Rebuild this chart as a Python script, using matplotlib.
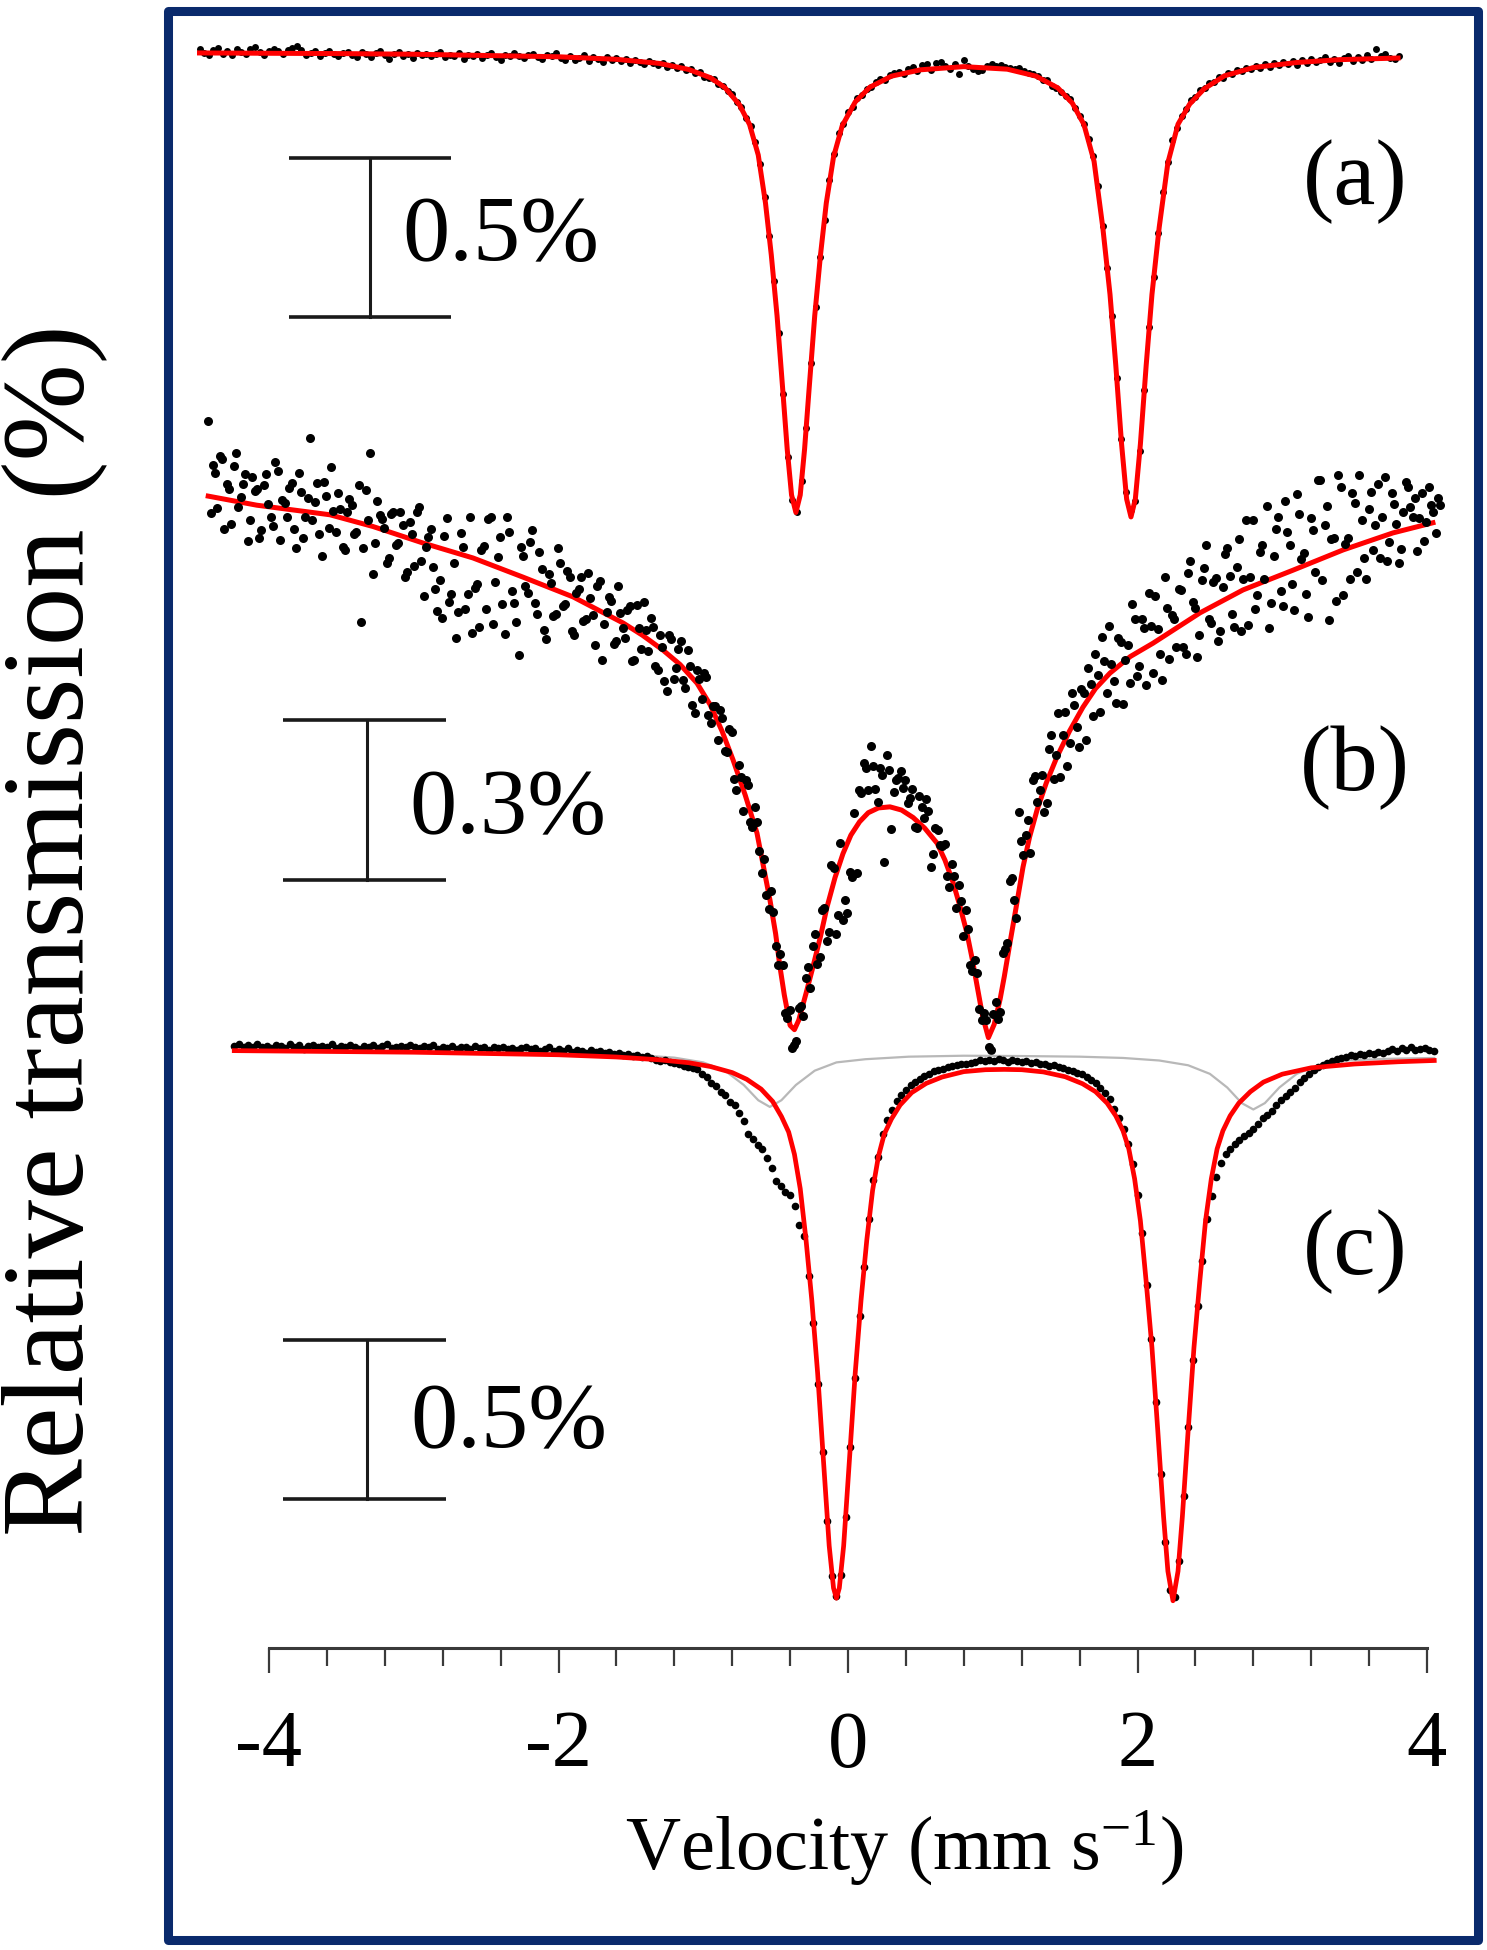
import matplotlib.pyplot as plt
import numpy as np
from matplotlib.patches import Rectangle
from matplotlib.ticker import FixedLocator

# ---------------- data (relative transmission in %) ----------------
# spectrum (a): channel grid start / step in mm/s, then transmission values
a_v0, a_step = -4.48, 0.032
a_trans = [
    100.010, 99.998, 99.990, 100.006, 100.012, 99.995, 100.003, 99.992, 100.009, 100.001,
    99.994, 100.008, 100.015, 99.999, 99.989, 100.004, 100.011, 100.002, 99.993, 100.007,
    100.013, 100.019, 100.006, 99.991, 99.998, 100.004, 99.987, 99.996, 100.003, 99.993,
    99.988, 99.997, 100.001, 99.991, 99.985, 99.999, 99.994, 99.983, 99.996, 100.004,
    99.990, 99.978, 99.995, 100.000, 99.987, 99.993, 99.981, 99.998, 99.989, 99.994,
    99.986, 99.995, 99.999, 99.983, 99.990, 99.988, 99.996, 99.978, 99.992, 99.987,
    99.994, 99.982, 99.990, 99.997, 99.985, 99.976, 99.991, 99.986, 99.998, 99.988,
    99.980, 99.992, 99.995, 99.983, 99.978, 99.990, 99.987, 99.996, 99.982, 99.976,
    99.986, 99.974, 99.981, 99.989, 99.972, 99.983, 99.978, 99.969, 99.985, 99.975,
    99.980, 99.971, 99.977, 99.966, 99.974, 99.969, 99.961, 99.972, 99.965, 99.958,
    99.966, 99.954, 99.960, 99.949, 99.955, 99.942, 99.946, 99.933, 99.936, 99.922,
    99.917, 99.915, 99.899, 99.894, 99.876, 99.868, 99.843, 99.826, 99.793, 99.766,
    99.716, 99.648, 99.544, 99.420, 99.279, 99.117, 98.924, 98.725, 98.591, 98.553,
    98.651, 98.819, 99.022, 99.199, 99.356, 99.471, 99.599, 99.679, 99.744, 99.774,
    99.811, 99.828, 99.855, 99.864, 99.885, 99.889, 99.906, 99.914, 99.913, 99.927,
    99.933, 99.938, 99.931, 99.947, 99.952, 99.940, 99.958, 99.963, 99.944, 99.966,
    99.970, 99.957, 99.946, 99.961, 99.930, 99.975, 99.955, 99.948, 99.939, 99.944,
    99.957, 99.962, 99.955, 99.958, 99.952, 99.950, 99.945, 99.949, 99.939, 99.933,
    99.930, 99.924, 99.911, 99.912, 99.893, 99.886, 99.874, 99.861, 99.851, 99.825,
    99.798, 99.774, 99.727, 99.673, 99.578, 99.452, 99.320, 99.169, 98.975, 98.782,
    98.616, 98.560, 98.587, 98.746, 98.937, 99.135, 99.293, 99.431, 99.560, 99.655,
    99.724, 99.760, 99.799, 99.820, 99.849, 99.858, 99.881, 99.886, 99.904, 99.905,
    99.921, 99.919, 99.934, 99.930, 99.944, 99.939, 99.951, 99.945, 99.957, 99.950,
    99.961, 99.953, 99.964, 99.958, 99.967, 99.962, 99.971, 99.960, 99.975, 99.966,
    99.978, 99.968, 99.974, 99.983, 99.970, 99.977, 99.965, 99.980, 99.986, 99.972,
    99.984, 99.976, 99.991, 99.979, 100.010, 99.988, 99.995, 99.982, 99.977, 99.986,
]
a_fit_v = [-4.48, -4.0, -3.5, -3.0, -2.5, -2.0, -1.6, -1.3, -1.1, -0.95,
           -0.85, -0.75, -0.68, -0.62, -0.57, -0.53, -0.49, -0.45, -0.42, -0.39,
           -0.36, -0.33, -0.30, -0.27, -0.23, -0.19, -0.15, -0.10, -0.04, 0.05,
           0.15, 0.3, 0.5, 0.8, 1.1, 1.3, 1.45, 1.55, 1.63, 1.70,
           1.76, 1.81, 1.85, 1.89, 1.925, 1.955, 1.985, 2.02, 2.06, 2.10,
           2.15, 2.21, 2.28, 2.36, 2.46, 2.6, 2.8, 3.1, 3.4, 3.8]
a_fit_T = [99.997, 99.996, 99.995, 99.993, 99.989, 99.985, 99.977, 99.964, 99.945, 99.919,
           99.888, 99.834, 99.772, 99.676, 99.525, 99.362, 99.170, 98.933, 98.751, 98.607,
           98.552, 98.607, 98.751, 98.933, 99.170, 99.362, 99.525, 99.670, 99.768, 99.843,
           99.889, 99.924, 99.944, 99.954, 99.946, 99.924, 99.887, 99.839, 99.772, 99.656,
           99.449, 99.238, 99.015, 98.767, 98.594, 98.538, 98.594, 98.767, 99.015, 99.238,
           99.449, 99.652, 99.773, 99.836, 99.884, 99.925, 99.951, 99.967, 99.976, 99.981]

# spectrum (b): even and odd channels
b_v0, b_step = -4.42, 0.032
b_trans = [
    100.091, 100.009, 99.928, 100.021, 99.974, 99.898, 100.031, 99.950, 99.993, 99.906,
    99.960, 99.873, 99.972, 99.936, 99.895, 99.999, 99.943, 99.912, 99.975, 99.854,
    99.958, 99.912, 100.060, 99.940, 99.879, 99.977, 99.891, 99.924, 99.957, 99.855,
    99.922, 99.935, 99.883, 99.715, 99.963, 100.032, 99.863, 99.915, 99.892, 99.834,
    99.921, 99.863, 99.896, 99.808, 99.880, 99.922, 99.829, 99.856, 99.889, 99.776,
    99.793, 99.876, 99.753, 99.826, 99.733, 99.855, 99.768, 99.695, 99.787, 99.849,
    99.740, 99.912, 99.789, 99.875, 99.692, 99.884, 99.751, 99.652, 99.839, 99.770,
    99.887, 99.729, 99.815, 99.682, 99.788, 99.730, 99.826, 99.748, 99.799, 99.691,
    99.776, 99.717, 99.807, 99.728, 99.783, 99.644, 99.734, 99.755, 99.680, 99.731,
    99.685, 99.744, 99.644, 99.703, 99.752, 99.661, 99.705, 99.624, 99.668, 99.585,
    99.682, 99.628, 99.680, 99.591, 99.633, 99.544, 99.608, 99.619, 99.540, 99.557,
    99.493, 99.534, 99.471, 99.508, 99.399, 99.424, 99.418, 99.340, 99.367, 99.285,
    99.270, 99.176, 99.171, 99.072, 99.071, 98.971, 98.915, 98.928, 98.994, 99.046,
    99.029, 99.129, 99.086, 99.178, 99.133, 99.254, 99.165, 99.156, 99.169, 99.236,
    99.243, 99.394, 99.441, 99.482, 99.401, 99.440, 99.264, 99.437, 99.395, 99.422,
    99.404, 99.376, 99.402, 99.329, 99.368, 99.382, 99.255, 99.329, 99.296, 99.299,
    99.217, 99.238, 99.222, 99.126, 99.138, 99.060, 99.057, 98.969, 98.969, 98.911,
    99.001, 98.984, 99.101, 99.228, 99.194, 99.359, 99.278, 99.343, 99.419, 99.378,
    99.427, 99.375, 99.503, 99.466, 99.424, 99.546, 99.488, 99.559, 99.481, 99.582,
    99.628, 99.539, 99.615, 99.686, 99.582, 99.636, 99.562, 99.678, 99.644, 99.600,
    99.721, 99.632, 99.703, 99.769, 99.620, 99.701, 99.606, 99.742, 99.728, 99.668,
    99.774, 99.654, 99.830, 99.741, 99.691, 99.816, 99.721, 99.790, 99.680, 99.780,
    99.854, 99.729, 99.818, 99.698, 99.907, 99.800, 99.739, 99.847, 99.796, 99.704,
    99.838, 99.911, 99.744, 99.883, 99.786, 99.955, 99.833, 99.767, 99.910, 99.809,
    99.982, 99.896, 99.719, 99.873, 99.991, 99.765, 99.873, 99.956, 99.809, 99.907,
    99.795, 99.958, 99.896, 99.834, 99.987, 99.865, 99.937, 99.825, 99.922, 99.969,
    99.911, 99.848, 99.956, 99.903, 99.935, 99.882, 99.934,
]
b_odd_v0 = -4.404
b_trans_odd = [
    99.920, 99.994, 100.027, 99.890, 99.964, 100.007, 99.931, 99.974, 99.867, 99.986,
    99.964, 99.888, 99.992, 99.911, 100.015, 99.869, 99.938, 99.966, 99.890, 99.994,
    99.873, 99.947, 99.906, 99.975, 99.838, 99.952, 100.005, 99.883, 99.926, 99.849,
    99.946, 99.879, 99.972, 99.854, 99.907, 99.804, 99.942, 99.909, 99.826, 99.918,
    99.860, 99.922, 99.800, 99.902, 99.819, 99.931, 99.763, 99.875, 99.818, 99.735,
    99.722, 99.910, 99.767, 99.685, 99.882, 99.739, 99.912, 99.779, 99.706, 99.857,
    99.909, 99.711, 99.837, 99.749, 99.911, 99.773, 99.714, 99.856, 99.782, 99.864,
    99.751, 99.847, 99.699, 99.805, 99.727, 99.853, 99.745, 99.811, 99.698, 99.769,
    99.799, 99.720, 99.760, 99.671, 99.791, 99.712, 99.762, 99.673, 99.783, 99.703,
    99.737, 99.642, 99.746, 99.665, 99.699, 99.723, 99.632, 99.691, 99.604, 99.691,
    99.608, 99.664, 99.606, 99.662, 99.559, 99.624, 99.571, 99.612, 99.526, 99.558,
    99.549, 99.473, 99.515, 99.421, 99.447, 99.361, 99.409, 99.331, 99.339, 99.243,
    99.203, 99.211, 99.107, 99.092, 98.981, 98.986, 98.922, 98.991, 98.975, 99.068,
    99.107, 99.073, 99.175, 99.116, 99.259, 99.130, 99.301, 99.193, 99.245, 99.357,
    99.399, 99.450, 99.399, 99.444, 99.378, 99.427, 99.466, 99.326, 99.419, 99.436,
    99.418, 99.384, 99.331, 99.389, 99.348, 99.361, 99.280, 99.325, 99.295, 99.238,
    99.260, 99.178, 99.192, 99.175, 99.072, 99.081, 98.988, 98.982, 98.918, 98.979,
    98.970, 99.093, 99.112, 99.234, 99.159, 99.304, 99.316, 99.281, 99.426, 99.400,
    99.359, 99.477, 99.420, 99.545, 99.503, 99.445, 99.581, 99.518, 99.589, 99.493,
    99.599, 99.655, 99.546, 99.642, 99.707, 99.604, 99.685, 99.561, 99.672, 99.748,
    99.614, 99.720, 99.596, 99.707, 99.763, 99.654, 99.799, 99.645, 99.721, 99.776,
    99.667, 99.807, 99.753, 99.649, 99.794, 99.859, 99.713, 99.798, 99.698, 99.842,
    99.802, 99.706, 99.871, 99.795, 99.709, 99.907, 99.766, 99.859, 99.933, 99.751,
    99.890, 99.773, 99.941, 99.860, 99.738, 99.917, 99.845, 99.724, 99.887, 99.981,
    99.794, 99.933, 99.871, 99.755, 99.968, 99.862, 99.795, 99.938, 99.991, 99.834,
    99.927, 99.850, 99.973, 99.911, 99.829, 99.956, 99.899, 99.851, 99.978, 99.930,
    99.947, 99.910, 99.867, 99.969, 99.921, 99.948,
]
b_fit_v = [-4.42, -4.085, -3.579, -3.282, -2.936, -2.591, -2.245, -1.900, -1.554, -1.42,
           -1.278, -1.16, -1.043, -0.953, -0.87, -0.794, -0.71, -0.629, -0.539, -0.50,
           -0.47, -0.44, -0.40, -0.37, -0.34, -0.29, -0.242, -0.19, -0.145, -0.09,
           -0.035, 0.02, 0.08, 0.14, 0.21, 0.29, 0.37, 0.45, 0.53, 0.615,
           0.67, 0.725, 0.775, 0.822, 0.86, 0.93, 0.97, 1.01, 1.05, 1.08,
           1.119, 1.165, 1.209, 1.255, 1.306, 1.37, 1.444, 1.53, 1.623, 1.71,
           1.81, 1.95, 2.107, 2.432, 2.729, 3.074, 3.42, 3.765, 4.041]
b_fit_T = [99.951, 99.934, 99.916, 99.894, 99.863, 99.835, 99.799, 99.762, 99.713, 99.690,
           99.662, 99.635, 99.600, 99.560, 99.510, 99.456, 99.390, 99.319, 99.193, 99.130,
           99.068, 99.015, 98.958, 98.950, 98.968, 99.018, 99.068, 99.125, 99.180, 99.235,
           99.280, 99.315, 99.340, 99.357, 99.366, 99.368, 99.362, 99.348, 99.328, 99.300,
           99.268, 99.227, 99.180, 99.131, 99.080, 98.975, 98.935, 98.960, 99.006, 99.050,
           99.113, 99.185, 99.255, 99.312, 99.362, 99.413, 99.462, 99.510, 99.555, 99.590,
           99.619, 99.650, 99.675, 99.732, 99.775, 99.812, 99.850, 99.882, 99.901]

# spectrum (c)
c_v0, c_step = -4.24, 0.032
c_trans = [
    100.012, 100.018, 100.008, 100.015, 100.011, 100.020, 100.009, 100.014, 100.006, 100.016,
    100.013, 100.007, 100.019, 100.010, 100.015, 100.004, 100.012, 100.017, 100.009, 100.014,
    100.011, 100.018, 100.006, 100.013, 100.008, 100.016, 100.010, 100.003, 100.014, 100.009,
    100.015, 100.007, 100.012, 100.018, 100.005, 100.010, 100.013, 100.008, 100.016, 100.011,
    100.006, 100.012, 100.009, 100.015, 100.003, 100.011, 100.007, 100.013, 100.002, 100.010,
    100.008, 100.004, 100.012, 100.006, 100.010, 100.001, 100.009, 100.005, 100.011, 100.003,
    100.007, 99.999, 100.005, 100.009, 100.002, 100.006, 99.996, 100.004, 100.008, 99.998,
    100.003, 99.997, 100.005, 99.994, 100.001, 99.996, 99.990, 99.999, 99.993, 99.997,
    99.989, 99.994, 99.986, 99.991, 99.984, 99.988, 99.981, 99.985, 99.978, 99.982,
    99.974, 99.970, 99.966, 99.968, 99.962, 99.958, 99.955, 99.950, 99.948, 99.944,
    99.940, 99.924, 99.915, 99.896, 99.886, 99.868, 99.857, 99.838, 99.826, 99.803,
    99.778, 99.735, 99.719, 99.700, 99.690, 99.659, 99.628, 99.589, 99.572, 99.553,
    99.545, 99.510, 99.450, 99.415, 99.290, 99.140, 98.950, 98.735, 98.520, 98.345,
    98.282, 98.350, 98.530, 98.752, 98.970, 99.162, 99.318, 99.470, 99.590, 99.664,
    99.735, 99.780, 99.812, 99.840, 99.858, 99.875, 99.889, 99.900, 99.909, 99.918,
    99.925, 99.933, 99.938, 99.941, 99.947, 99.950, 99.952, 99.957, 99.955, 99.960,
    99.962, 99.968, 99.964, 99.970, 99.966, 99.972, 99.967, 99.963, 99.969, 99.965,
    99.962, 99.966, 99.958, 99.961, 99.955, 99.957, 99.951, 99.953, 99.946, 99.944,
    99.938, 99.935, 99.928, 99.924, 99.915, 99.905, 99.895, 99.880, 99.865, 99.845,
    99.815, 99.787, 99.752, 99.705, 99.640, 99.545, 99.425, 99.262, 99.092, 98.892,
    98.668, 98.452, 98.302, 98.281, 98.394, 98.596, 98.816, 99.024, 99.196, 99.335,
    99.470, 99.540, 99.600, 99.645, 99.672, 99.690, 99.705, 99.716, 99.728, 99.738,
    99.752, 99.768, 99.785, 99.795, 99.808, 99.826, 99.842, 99.856, 99.868, 99.882,
    99.898, 99.912, 99.925, 99.936, 99.945, 99.953, 99.960, 99.966, 99.971, 99.975,
    99.979, 99.984, 99.981, 99.988, 99.985, 99.991, 99.987, 99.994, 99.990, 99.996,
    100.002, 99.997, 100.005, 100.001, 100.008, 99.999, 100.004, 100.006, 100.001, 99.998,
]
c_fit_v = [-4.24, -3.5, -3.0, -2.5, -2.0, -1.6, -1.3, -1.1, -0.95, -0.8,
           -0.7, -0.6, -0.52, -0.46, -0.41, -0.37, -0.33, -0.29, -0.25, -0.21,
           -0.17, -0.13, -0.10, -0.08, -0.06, -0.03, 0.01, 0.05, 0.09, 0.13,
           0.17, 0.21, 0.25, 0.30, 0.36, 0.44, 0.54, 0.65, 0.80, 0.95,
           1.08, 1.2, 1.35, 1.5, 1.62, 1.71, 1.79, 1.85, 1.90, 1.94,
           1.98, 2.02, 2.06, 2.10, 2.14, 2.18, 2.21, 2.245, 2.28, 2.31,
           2.35, 2.39, 2.43, 2.47, 2.51, 2.55, 2.59, 2.64, 2.70, 2.78,
           2.87, 3.0, 3.2, 3.5, 3.8, 4.05]
c_fit_T = [99.998, 99.995, 99.993, 99.989, 99.985, 99.978, 99.969, 99.960, 99.948, 99.929,
           99.908, 99.877, 99.838, 99.791, 99.742, 99.672, 99.564, 99.403, 99.213, 98.985,
           98.712, 98.441, 98.308, 98.276, 98.308, 98.441, 98.712, 98.985, 99.213, 99.403,
           99.559, 99.665, 99.735, 99.783, 99.827, 99.866, 99.895, 99.915, 99.932, 99.938,
           99.939, 99.938, 99.931, 99.916, 99.894, 99.869, 99.833, 99.793, 99.746, 99.689,
           99.595, 99.463, 99.271, 99.064, 98.804, 98.533, 98.361, 98.268, 98.361, 98.533,
           98.804, 99.064, 99.271, 99.463, 99.595, 99.689, 99.746, 99.793, 99.833, 99.869,
           99.899, 99.924, 99.944, 99.956, 99.963, 99.967]
# minor (grey) component of (c)
c_sub_v = [-4.24, -3.0, -2.0, -1.5, -1.2, -1.0, -0.85, -0.72, -0.62, -0.54,
           -0.46, -0.36, -0.23, -0.08, 0.12, 0.42, 0.8, 1.2, 1.6, 1.9,
           2.15, 2.35, 2.5, 2.62, 2.72, 2.80, 2.88, 2.98, 3.10, 3.25,
           3.45, 3.7, 4.05]
c_sub_T = [99.999, 99.996, 99.991, 99.985, 99.976, 99.961, 99.935, 99.890, 99.842, 99.821,
           99.842, 99.890, 99.935, 99.961, 99.971, 99.979, 99.982, 99.981, 99.979, 99.975,
           99.967, 99.952, 99.925, 99.882, 99.833, 99.813, 99.833, 99.882, 99.925, 99.952,
           99.967, 99.972, 99.975]

# scale bar sizes (%) and labels
bar_sizes = [0.5, 0.3, 0.5]
bar_labels = ["0.5%", "0.3%", "0.5%"]
panel_labels = ["(a)", "(b)", "(c)"]
x_ticks = [-4, -2, 0, 2, 4]
x_ticklabels = ["-4", "-2", "0", "2", "4"]

# ---------------- figure ----------------
W, H, DPI = 1487, 1950, 100
plt.rcParams['font.family'] = 'serif'
plt.rcParams['font.serif'] = ['Liberation Serif', 'DejaVu Serif']
plt.rcParams['mathtext.default'] = 'regular'
plt.rcParams['axes.unicode_minus'] = False

fig = plt.figure(figsize=(W / DPI, H / DPI), dpi=DPI)

X_LIM = (-4.8, 4.3)
PX_PER_V = 144.75   # pixels per mm/s
PX_V0 = 848         # pixel column of 0 mm/s


def panel(px_top, px_bot, px_ref, px_per_pct):
    """transparent axes covering rows px_top..px_bot, 100 % sits on row px_ref"""
    x0 = PX_V0 + X_LIM[0] * PX_PER_V
    x1 = PX_V0 + X_LIM[1] * PX_PER_V
    ax = fig.add_axes([x0 / W, 1 - px_bot / H, (x1 - x0) / W, (px_bot - px_top) / H])
    ax.set_xlim(*X_LIM)
    ax.set_ylim(100 - (px_bot - px_ref) / px_per_pct, 100 + (px_ref - px_top) / px_per_pct)
    ax.patch.set_alpha(0)
    for s in ax.spines.values():
        s.set_visible(False)
    ax.set_xticks([])
    ax.set_yticks([])
    return ax


ax_a = panel(15, 570, 52, 318)
ax_b = panel(380, 1085, 470, 533)
ax_c = panel(980, 1648, 1050, 318)


def channels(v0, step, values):
    return v0 + step * np.arange(len(values))


# (a): dots under the fit
ax_a.plot(channels(a_v0, a_step, a_trans), a_trans, 'o', color='black', ms=5, mec='none')
ax_a.plot(a_fit_v, a_fit_T, color='#ff0000', lw=3.6)

# (b): dots over the fit
ax_b.plot(b_fit_v, b_fit_T, color='#ff0000', lw=3.6)
b_vel = np.concatenate([channels(b_v0, b_step, b_trans), channels(b_odd_v0, b_step, b_trans_odd)])
ax_b.plot(b_vel, b_trans + b_trans_odd, 'o', color='black', ms=6.5, mec='none')

# (c): grey sub-component, data, total fit
ax_c.plot(c_sub_v, c_sub_T, color='#b8b8b8', lw=1.6)
ax_c.plot(channels(c_v0, c_step, c_trans), c_trans, 'o', color='black', ms=5.5, mec='none')
ax_c.plot(c_fit_v, c_fit_T, color='#ff0000', lw=3.4)

# scale bars
bar_x = [(-3.86, -2.74, -3.30), (-3.90, -2.78, -3.32), (-3.90, -2.78, -3.32)]
bar_top = [99.667, 99.531, 99.088]
text_pos = [(-3.08, 99.346), (-3.03, 99.319), (-3.02, 98.752)]
for ax, size, lab, (xl, xr, xm), top, (tx, ty) in zip(
        [ax_a, ax_b, ax_c], bar_sizes, bar_labels, bar_x, bar_top, text_pos):
    bot = top - size
    ax.plot([xl, xr], [top, top], color='#1a1a1a', lw=2.6, solid_capstyle='butt')
    ax.plot([xl, xr], [bot, bot], color='#1a1a1a', lw=2.6, solid_capstyle='butt')
    ax.plot([xm, xm], [top, bot], color='#1a1a1a', lw=2.2)
    ax.text(tx, ty, lab, fontsize=68, ha='left', va='baseline', color='black')

# x axis on the bottom panel
ax_c.spines['bottom'].set_visible(True)
ax_c.spines['bottom'].set_bounds(-4, 4)
ax_c.spines['bottom'].set_color('#3a3a3a')
ax_c.spines['bottom'].set_linewidth(2.2)
ax_c.xaxis.set_major_locator(FixedLocator(x_ticks))
ax_c.set_xticklabels(x_ticklabels)
ax_c.xaxis.set_minor_locator(FixedLocator(np.arange(-4, 4.01, 0.4)))
ax_c.tick_params(axis='x', which='major', direction='out', length=18, width=1.6,
                 color='#3a3a3a', pad=27, labelsize=58)
ax_c.tick_params(axis='x', which='minor', direction='out', length=13, width=1.6,
                 color='#3a3a3a')
ax_c.set_xlabel(r'Velocity (mm s$^{-1}$)', fontsize=55)
ax_c.xaxis.label.set_verticalalignment('baseline')
ax_c.xaxis.set_label_coords((904 - (PX_V0 + X_LIM[0] * PX_PER_V)) / (PX_PER_V * (X_LIM[1] - X_LIM[0])),
                            -(1870 - 1648) / (1648 - 980))

fig.text(54 / W, 1 - 930 / H, 'Relative transmission (%)', rotation=90,
         ha='center', va='center', fontsize=84)

for lab, yc in zip(panel_labels, [182, 768, 1252]):
    fig.text(1355 / W, 1 - yc / H, lab, ha='center', va='center', fontsize=68)

# navy frame
fig.patches.append(Rectangle((167.5 / W, 1 - 1939.5 / H), (1477.5 - 167.5) / W,
                             (1939.5 - 10.5) / H, transform=fig.transFigure,
                             fill=False, edgecolor='#0a2a6c', lw=6.5, joinstyle='round'))

fig.savefig('out.png', dpi=DPI)
